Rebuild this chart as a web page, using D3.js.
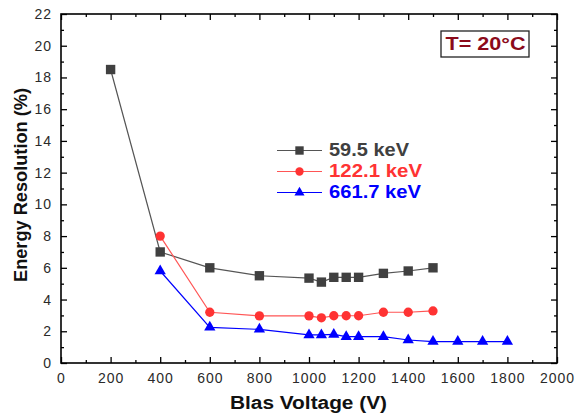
<!DOCTYPE html>
<html>
<head>
<meta charset="utf-8">
<script src="https://cdn.jsdelivr.net/npm/d3@7"></script>
<style>
  body { margin: 0; background: #fff; }
  svg { display: block; }
  svg text { font-family: "Liberation Sans", Arial, sans-serif; }
</style>
</head>
<body>
<svg id="chart" width="576" height="415"></svg>
<script>
// ----------
var xTicks = [0, 200, 400, 600, 800, 1000, 1200, 1400, 1600, 1800, 2000];
var yTicks = [0, 2, 4, 6, 8, 10, 12, 14, 16, 18, 20, 22];

var voltsLow = [200, 400, 600, 800, 1000, 1050, 1100, 1150, 1200, 1300, 1400, 1500];
var res595 = [18.5, 7.0, 6.0, 5.5, 5.35, 5.1, 5.4, 5.4, 5.4, 5.65, 5.8, 6.0];

var voltsMid = [400, 600, 800, 1000, 1050, 1100, 1150, 1200, 1300, 1400, 1500];
var res1221 = [8.0, 3.2, 2.97, 2.97, 2.85, 2.98, 2.98, 2.98, 3.2, 3.2, 3.28];

var voltsHigh = [400, 600, 800, 1000, 1050, 1100, 1150, 1200, 1300, 1400, 1500, 1600, 1700, 1800];
var res6617 = [5.8, 2.25, 2.12, 1.77, 1.77, 1.8, 1.66, 1.66, 1.66, 1.45, 1.35, 1.35, 1.35, 1.35];

var seriesNames = ['59.5 keV', '122.1 keV', '661.7 keV'];

(function() {
  var series = [
    { name: seriesNames[0], x: voltsLow, y: res595, color: '#404040', line: '#555', shape: d3.symbolSquare, size: 88, len: 80 },
    { name: seriesNames[1], x: voltsMid, y: res1221, color: '#ff3333', line: '#ff5555', shape: d3.symbolCircle, size: 68, len: 93 },
    { name: seriesNames[2], x: voltsHigh, y: res6617, color: '#0000ff', line: '#0000ff', shape: d3.symbolTriangle, size: 55, len: 92 }
  ];

  var m = { left: 61, right: 557, top: 14, bottom: 363 };

  var x = d3.scaleLinear().domain([0, 2000]).range([m.left, m.right]);
  var y = d3.scaleLinear().domain([0, 22]).range([m.bottom, m.top]);

  var svg = d3.select('#chart');

  // ---------- frame ticks (inward, mirrored)
  function tickAxis(axis, transform) {
    var g = svg.append('g').attr('transform', transform).call(axis);
    g.attr('font-family', null);
    g.select('.domain').remove();
    g.selectAll('line').attr('stroke', '#000').attr('stroke-width', 1.3);
    return g;
  }

  function styleTickText(g) {
    g.selectAll('text')
      .style('font-size', '14px')
      .style('fill', '#2a2a2a')
      .style('letter-spacing', '1px');
  }

  var xMinor = d3.range(100, 2000, 200);
  var yMinor = d3.range(1, 22, 2);

  var bottomAxis = tickAxis(d3.axisBottom(x).tickValues(xTicks).tickSize(-6).tickPadding(10).tickFormat(d3.format('d')),
    'translate(0,' + m.bottom + ')');
  styleTickText(bottomAxis);
  tickAxis(d3.axisBottom(x).tickValues(xMinor).tickSize(-3).tickFormat(''), 'translate(0,' + m.bottom + ')');
  tickAxis(d3.axisTop(x).tickValues(xTicks).tickSize(-6).tickFormat(''), 'translate(0,' + m.top + ')');
  tickAxis(d3.axisTop(x).tickValues(xMinor).tickSize(-3).tickFormat(''), 'translate(0,' + m.top + ')');

  var leftAxis = tickAxis(d3.axisLeft(y).tickValues(yTicks).tickSize(-6).tickPadding(9),
    'translate(' + m.left + ',0)');
  styleTickText(leftAxis);
  tickAxis(d3.axisLeft(y).tickValues(yMinor).tickSize(-3).tickFormat(''), 'translate(' + m.left + ',0)');
  tickAxis(d3.axisRight(y).tickValues(yTicks).tickSize(-6).tickFormat(''), 'translate(' + m.right + ',0)');
  tickAxis(d3.axisRight(y).tickValues(yMinor).tickSize(-3).tickFormat(''), 'translate(' + m.right + ',0)');

  svg.append('rect')
    .attr('x', m.left).attr('y', m.top)
    .attr('width', m.right - m.left).attr('height', m.bottom - m.top)
    .style('fill', 'none').style('stroke', '#000').style('stroke-width', 1.6);

  // ---------- series
  series.forEach(function(s) {
    var pts = s.x.map(function(v, i) { return [v, s.y[i]]; });

    svg.append('path')
      .datum(pts)
      .attr('d', d3.line().x(function(d) { return x(d[0]); }).y(function(d) { return y(d[1]); }))
      .style('fill', 'none').style('stroke', s.line).style('stroke-width', 1.2);

    svg.append('g').selectAll('path')
      .data(pts)
      .join('path')
      .attr('transform', function(d) { return 'translate(' + x(d[0]) + ',' + y(d[1]) + ')'; })
      .attr('d', d3.symbol().type(s.shape).size(s.size))
      .style('fill', s.color);
  });

  // ---------- legend
  series.forEach(function(s, i) {
    var ly = 150.5 + i * 21;
    svg.append('line')
      .attr('x1', 277).attr('x2', 322).attr('y1', ly).attr('y2', ly)
      .style('stroke', s.line).style('stroke-width', 1.2);
    svg.append('path')
      .attr('transform', 'translate(299.5,' + ly + ')')
      .attr('d', d3.symbol().type(s.shape).size(s.size * 0.8))
      .style('fill', s.color);
    svg.append('text')
      .attr('x', 329).attr('y', ly + 5.5)
      .attr('textLength', s.len).attr('lengthAdjust', 'spacingAndGlyphs')
      .style('font-size', '17.5px').style('font-weight', 'bold')
      .style('fill', s.color)
      .text(s.name);
  });

  // ---------- temperature box
  svg.append('rect')
    .attr('x', 441).attr('y', 31).attr('width', 88).attr('height', 26)
    .style('fill', '#fff').style('stroke', '#222').style('stroke-width', 1.3);
  svg.append('text')
    .attr('x', 445.5).attr('y', 49.5)
    .attr('textLength', 80).attr('lengthAdjust', 'spacingAndGlyphs')
    .style('font-size', '19px').style('font-weight', 'bold').style('fill', '#8b0a1a')
    .text('T= 20°C');

  // ---------- axis titles
  svg.append('text')
    .attr('x', 230).attr('y', 409)
    .attr('textLength', 157).attr('lengthAdjust', 'spacingAndGlyphs')
    .style('font-size', '18px').style('font-weight', 'bold').style('fill', '#111')
    .text('Blas Voltage (V)');

  svg.append('text')
    .attr('transform', 'translate(26.5,282) rotate(-90)')
    .attr('textLength', 194).attr('lengthAdjust', 'spacingAndGlyphs')
    .style('font-size', '18px').style('font-weight', 'bold').style('fill', '#111')
    .text('Energy Resolution (%)');
})();
</script>
</body>
</html>
